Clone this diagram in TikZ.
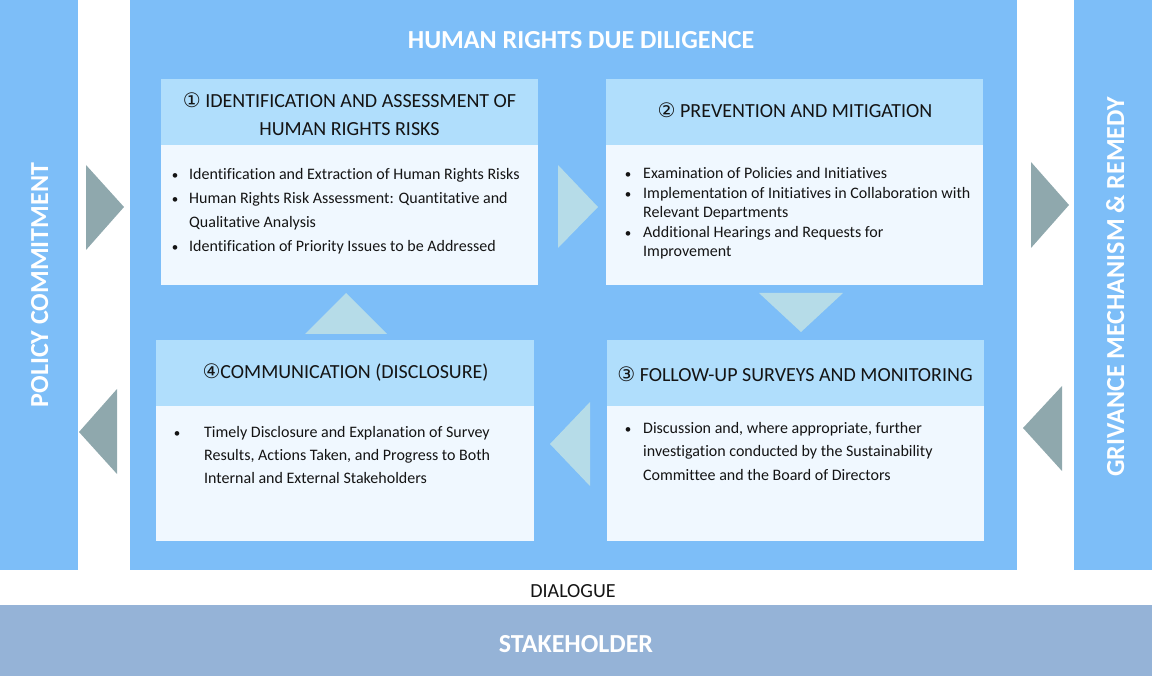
\documentclass[tikz,border=0pt]{standalone}
\usepackage{fontspec}
\setmainfont{Carlito}[Ligatures=CommonOff]
\newfontfamily\circfont{DejaVu Sans}
\definecolor{mainblue}{RGB}{125,190,248}
\definecolor{headblue}{RGB}{176,222,252}
\definecolor{bodyblue}{RGB}{240,248,255}
\definecolor{greytri}{RGB}{143,168,173}
\definecolor{lighttri}{RGB}{182,220,232}
\definecolor{stakeblue}{RGB}{149,179,215}
\definecolor{txt}{RGB}{20,20,20}
\tikzset{
  panel/.style={fill=#1, inner sep=0pt, anchor=north west, draw=none},
  headtext/.style={font=\fontsize{20}{24}\selectfont, text=txt, anchor=base, inner sep=0pt},
  bodytext/.style={font=\fontsize{16}{19}\selectfont, text=txt, anchor=base west, inner sep=0pt},
  bultext/.style={font=\fontsize{13}{16}\selectfont, text=txt, anchor=base, inner sep=0pt},
  bigwhite/.style={font=\bfseries\fontsize{26}{30}\selectfont, text=white, inner sep=0pt},
}
\newcommand{\circnum}[1]{{\circfont\fontsize{20}{22}\selectfont #1}}
\begin{document}
\begin{tikzpicture}[x=1pt,y=-1pt]
\useasboundingbox (0,0) rectangle (1152,676);
% bars
\node[panel=mainblue, minimum width=78pt, minimum height=570pt] (leftbar) at (0,0) {};
\node[panel=mainblue, minimum width=78pt, minimum height=570pt] (rightbar) at (1074,0) {};
\node[panel=mainblue, minimum width=887pt, minimum height=570pt] (main) at (130,0) {};
\node[panel=stakeblue, minimum width=1152pt, minimum height=71pt] (stake) at (0,605) {};
% texts on bars
\node[bigwhite, rotate=90, anchor=base] (policy) at (48,285) {POLICY COMMITMENT};
\node[bigwhite, rotate=90, anchor=base] (grivance) at (1124,287) {GRIVANCE MECHANISM \& REMEDY};
\node[bigwhite, anchor=base] (title) at (581,49) {HUMAN RIGHTS DUE DILIGENCE};
\node[bigwhite, anchor=base] (stakeholder) at (576,652) {STAKEHOLDER};
\node[font=\fontsize{20}{24}\selectfont, text=txt, anchor=base, inner sep=0pt] (dialogue) at (573,597) {DIALOGUE};
% box 1
\node[panel=headblue, minimum width=377pt, minimum height=66pt] (h1) at (161,79) {};
\node[panel=bodyblue, minimum width=377pt, minimum height=140pt] (b1) at (161,145) {};
% box 2
\node[panel=headblue, minimum width=377pt, minimum height=66pt] (h2) at (606,79) {};
\node[panel=bodyblue, minimum width=377pt, minimum height=140pt] (b2) at (606,145) {};
% box 3
\node[panel=headblue, minimum width=377pt, minimum height=66pt] (h3) at (607,340) {};
\node[panel=bodyblue, minimum width=377pt, minimum height=135pt] (b3) at (607,406) {};
% box 4
\node[panel=headblue, minimum width=378pt, minimum height=66pt] (h4) at (156,340) {};
\node[panel=bodyblue, minimum width=378pt, minimum height=135pt] (b4) at (156,406) {};
% headers
\node[headtext] (h1a) at (349.5,108) {\circnum{①} IDENTIFICATION AND ASSESSMENT OF};
\node[headtext] (h1b) at (349.5,136) {HUMAN RIGHTS RISKS};
\node[headtext] (h2a) at (795,118) {\circnum{②} PREVENTION AND MITIGATION};
\node[headtext] (h3a) at (795,382) {\circnum{③} FOLLOW-UP SURVEYS AND MONITORING};
\node[headtext] (h4a) at (345.5,379) {\circnum{④}COMMUNICATION (DISCLOSURE)};
% body 1
\node[bultext] (k1a) at (175,180) {•};
\node[bodytext] (t1a) at (189,180) {Identification and Extraction of Human Rights Risks};
\node[bultext] (k1b) at (175,204) {•};
\node[bodytext] (t1b) at (189,204) {Human Rights Risk Assessment: Quantitative and};
\node[bodytext] (t1c) at (189,228) {Qualitative Analysis};
\node[bultext] (k1c) at (175,252) {•};
\node[bodytext] (t1d) at (189,252) {Identification of Priority Issues to be Addressed};
% body 2
\node[bultext] (k2a) at (628,179) {•};
\node[bodytext] (t2a) at (643,179) {Examination of Policies and Initiatives};
\node[bultext] (k2b) at (628,199) {•};
\node[bodytext] (t2b) at (643,199) {Implementation of Initiatives in Collaboration with};
\node[bodytext] (t2c) at (643,218) {Relevant Departments};
\node[bultext] (k2c) at (628,238) {•};
\node[bodytext] (t2d) at (643,238) {Additional Hearings and Requests for};
\node[bodytext] (t2e) at (643,257) {Improvement};
% body 3
\node[bultext] (k3a) at (628,433) {•};
\node[bodytext] (t3a) at (643,433) {Discussion and, where appropriate, further};
\node[bodytext] (t3b) at (643,456) {investigation conducted by the Sustainability};
\node[bodytext] (t3c) at (643,480) {Committee and the Board of Directors};
% body 4
\node[bultext] (k4a) at (177,437) {•};
\node[bodytext] (t4a) at (204,437) {Timely Disclosure and Explanation of Survey};
\node[bodytext] (t4b) at (204,460) {Results, Actions Taken, and Progress to Both};
\node[bodytext] (t4c) at (204,483) {Internal and External Stakeholders};
% triangles
\fill[greytri] (86,165) -- (124,207) -- (86,250) -- cycle;
\fill[greytri] (117,389) -- (79,432) -- (117,474) -- cycle;
\fill[greytri] (1031,162) -- (1069,205) -- (1031,248) -- cycle;
\fill[greytri] (1062,386) -- (1023,428) -- (1062,471) -- cycle;
\fill[lighttri] (558,165) -- (598,207) -- (558,248) -- cycle;
\fill[lighttri] (759,293) -- (843,293) -- (801,332) -- cycle;
\fill[lighttri] (590,402) -- (550,444) -- (590,486) -- cycle;
\fill[lighttri] (305,334) -- (346,293) -- (387,334) -- cycle;
\end{tikzpicture}
\end{document}
